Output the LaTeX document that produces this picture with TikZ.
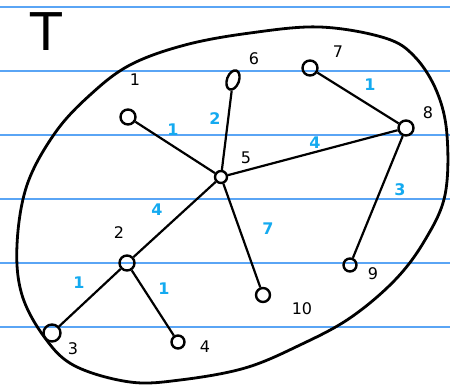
\documentclass[tikz,border=0pt]{standalone}
\usepackage{fontspec}
\setmainfont{DejaVu Sans}
\usetikzlibrary{shapes.geometric}
\definecolor{rule}{RGB}{90,165,245}
\definecolor{wt}{RGB}{20,170,240}
\begin{document}
\begin{tikzpicture}[x=1pt,y=-1pt,
  vert/.style={draw=black,line width=2.4pt,circle,minimum size=15pt,inner sep=0pt},
  edge/.style={draw=black,line width=2.2pt},
  lab/.style={font=\fontsize{16}{16}\selectfont,text=black,inner sep=0pt},
  wlab/.style={font=\bfseries\fontsize{16}{16}\selectfont,text=wt,inner sep=0pt}]
\useasboundingbox (0,0) rectangle (450,389);
\fill[white] (0,0) rectangle (450,389);
\foreach \yy in {7,71,135,199,263,327} \draw[rule,line width=1.2pt] (0,\yy) -- (450,\yy);
% title
\node[font=\fontsize{52}{52}\selectfont,inner sep=0pt] (title) at (46,32) {T};
% outer blob
\draw[line width=2.8pt,line join=round] plot[smooth cycle,tension=0.6] coordinates {
 (185,45) (250,33) (320,27) (385,38) (415,57) (437,92) (447,135) (445,195)
 (425,240) (395,280) (350,318) (300,345) (245,368) (180,380) (130,382)
 (75,366) (45,338) (22,295) (17,245) (27,185) (55,133) (90,95) (130,65)};
% vertices
\node[vert] (v1) at (128,117) {};
\node[draw=black,line width=2.4pt,ellipse,minimum width=12pt,minimum height=20pt,inner sep=0pt,rotate=-20] (v6) at (233,80) {};
\node[vert] (v7) at (310,68) {};
\node[vert] (v8) at (406,128) {};
\node[vert,minimum size=12pt] (v5) at (221,177) {};
\node[vert] (v2) at (127,263) {};
\node[vert,minimum size=17pt] (v3) at (52,333) {};
\node[vert,minimum size=13pt] (v4) at (178,342) {};
\node[vert,minimum size=14pt] (v10) at (263,295) {};
\node[vert,minimum size=13pt] (v9) at (350,265) {};
% labels
\node[lab] (l1) at (135,80) {1};
\node[lab] (l6) at (254,59) {6};
\node[lab] (l7) at (338,52) {7};
\node[lab] (l8) at (428,113) {8};
\node[lab] (l5) at (246,158) {5};
\node[lab] (l2) at (119,233) {2};
\node[lab] (l3) at (73,349) {3};
\node[lab] (l4) at (205,347) {4};
\node[lab] (l10) at (302,309) {10};
\node[lab] (l9) at (373,274) {9};
% edges
\draw[edge] (v1) -- (v5);
\draw[edge] (v6) -- (v5);
\draw[edge] (v7) -- (v8);
\draw[edge] (v5) -- (v8);
\draw[edge] (v8) -- (v9);
\draw[edge] (v5) -- (v2);
\draw[edge] (v5) -- (v10);
\draw[edge] (v2) -- (v3);
\draw[edge] (v2) -- (v4);
% weights
\node[wlab] (w15) at (173,130) {1};
\node[wlab] (w65) at (215,119) {2};
\node[wlab] (w78) at (370,85) {1};
\node[wlab] (w58) at (315,143) {4};
\node[wlab] (w89) at (400,190) {3};
\node[wlab] (w52) at (157,210) {4};
\node[wlab] (w510) at (268,229) {7};
\node[wlab] (w23) at (79,283) {1};
\node[wlab] (w24) at (164,289) {1};
\end{tikzpicture}
\end{document}
